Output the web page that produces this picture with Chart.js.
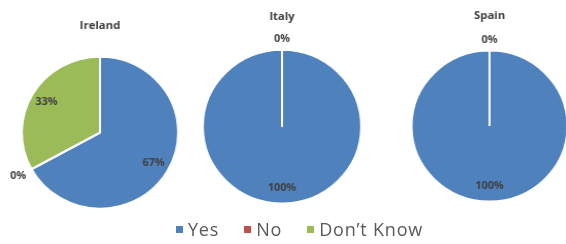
<!DOCTYPE html>
<html>
<head>
<meta charset="utf-8">
<script src="https://cdn.jsdelivr.net/npm/chart.js@4.4.1/dist/chart.umd.min.js"></script>
<style>
  html, body { margin: 0; padding: 0; background: #fff; width: 566px; height: 244px; overflow: hidden; position: relative; }
  .c { position: absolute; }
  #legend { position: absolute; left: 176px; top: 217px; text-align: left; font-family: "Open Sans", "Liberation Sans", sans-serif; font-size: 18px; letter-spacing: 0.8px; color: #595959; white-space: nowrap; }
  #legend span.item { display: inline-block; margin-right: 25px; }
  #legend span.box { display: inline-block; width: 7px; height: 7px; margin-right: 5px; vertical-align: 3px; }
</style>
</head>
<body>
<div class="c" style="left:-3px;top:19px;"><canvas id="c0" width="200" height="190" style="width:206px;height:190px;"></canvas></div>
<div class="c" style="left:179px;top:10px;"><canvas id="c1" width="200" height="194" style="width:206px;height:194px;"></canvas></div>
<div class="c" style="left:411px;top:9px;"><canvas id="c2" width="152" height="195" style="width:157px;height:195px;"></canvas></div>
<div id="legend"></div>
<script>
const categories = ["Yes", "No", "Don\u2019t Know"];
const countries = ["Ireland", "Italy", "Spain"];
const irelandValues = [67, 0, 33];
const italyValues = [100, 0, 0];
const spainValues = [100, 0, 0];
const colors = ["#4f81bd", "#c0504d", "#9bbb59"];

const seriesList = [irelandValues, italyValues, spainValues];
const titlePadBottom = [24, 26, 26];

const labelPlugin = {
  id: 'pieLabels',
  afterDatasetsDraw(chart) {
    const ctx = chart.ctx;
    const meta = chart.getDatasetMeta(0);
    const data = chart.data.datasets[0].data;
    const total = data.reduce((a, b) => a + b, 0);
    ctx.save();
    ctx.strokeStyle = '#ffffff';
    ctx.lineWidth = 2;
    meta.data.forEach((arc) => {
      const p = arc.getProps(['x', 'y', 'startAngle', 'outerRadius'], true);
      ctx.beginPath();
      ctx.moveTo(p.x, p.y);
      ctx.lineTo(p.x + Math.cos(p.startAngle) * p.outerRadius, p.y + Math.sin(p.startAngle) * p.outerRadius);
      ctx.stroke();
    });
    ctx.restore();
    ctx.save();
    ctx.font = 'bold 10.5px "Open Sans", "Liberation Sans", sans-serif';
    ctx.fillStyle = '#404040';
    ctx.textAlign = 'center';
    ctx.textBaseline = 'middle';
    const drawn = new Set();
    meta.data.forEach((arc, i) => {
      const p = arc.getProps(['x', 'y', 'startAngle', 'endAngle', 'outerRadius'], true);
      const v = data[i];
      const txt = Math.round(v / total * 100) + '%';
      const mid = (p.startAngle + p.endAngle) / 2;
      const dx = Math.cos(mid), dy = Math.sin(mid);
      let d;
      if (v === 0) {
        const w = ctx.measureText(txt).width;
        d = p.outerRadius + 6 + Math.abs(dx) * w / 2 + Math.abs(dy) * 5;
      } else {
        d = p.outerRadius * 0.8;
      }
      const x = p.x + dx * d, y = p.y + dy * d;
      const key = txt + '@' + Math.round(x) + ',' + Math.round(y);
      if (drawn.has(key)) return;
      drawn.add(key);
      ctx.fillText(txt, x, y);
    });
    ctx.restore();
  }
};

seriesList.forEach((vals, k) => {
  new Chart(document.getElementById('c' + k), {
    type: 'pie',
    data: {
      labels: categories,
      datasets: [{
        data: vals,
        backgroundColor: colors,
        borderColor: '#ffffff',
        borderWidth: 1.5
      }]
    },
    options: {
      responsive: false,
      animation: false,
      layout: { padding: 0 },
      plugins: {
        legend: { display: false },
        tooltip: { enabled: false },
        title: {
          display: true,
          text: countries[k],
          color: '#404040',
          font: { family: '"Open Sans", "Liberation Sans", sans-serif', size: 11, weight: 'bold' },
          padding: { top: 0, bottom: titlePadBottom[k] }
        }
      }
    },
    plugins: [labelPlugin]
  });
});

const legend = document.getElementById('legend');
categories.forEach((c, i) => {
  const item = document.createElement('span');
  item.className = 'item';
  const box = document.createElement('span');
  box.className = 'box';
  box.style.background = colors[i];
  item.appendChild(box);
  item.appendChild(document.createTextNode(c));
  legend.appendChild(item);
});
</script>
</body>
</html>
